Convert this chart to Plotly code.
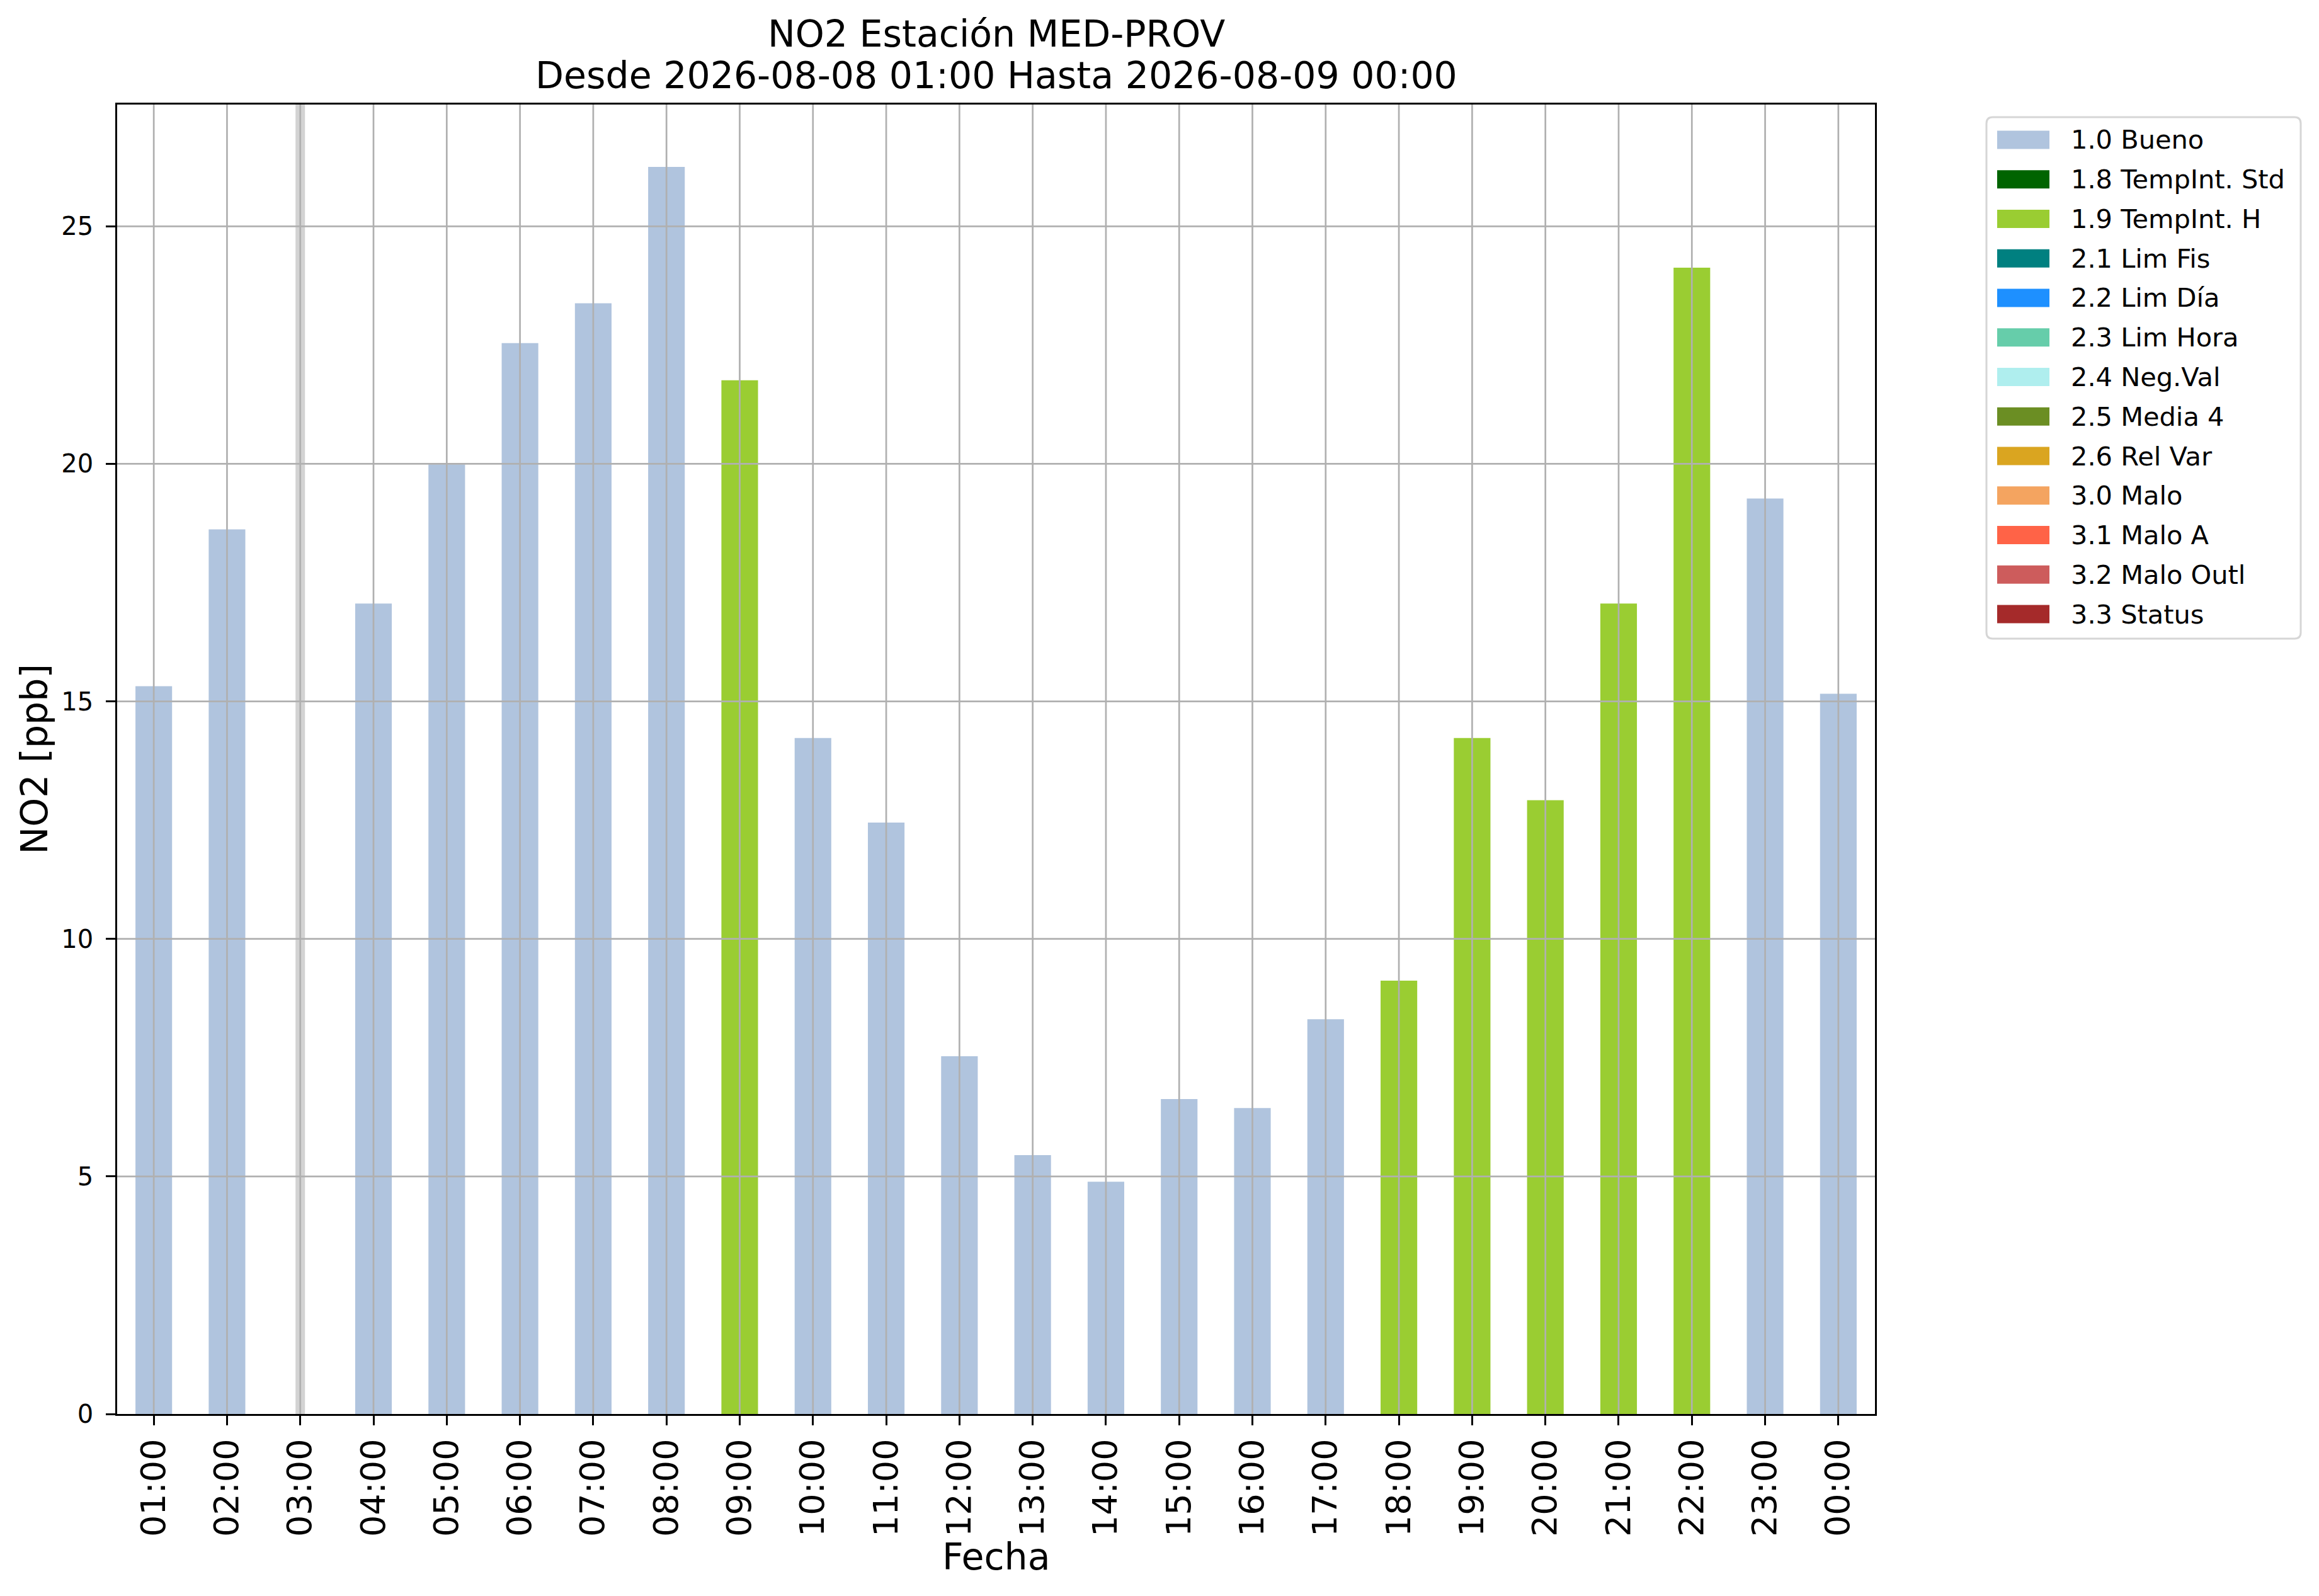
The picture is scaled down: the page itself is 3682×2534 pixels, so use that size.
import plotly.graph_objects as go

# ---------------- data ----------------
hours = ["01:00", "02:00", "03:00", "04:00", "05:00", "06:00", "07:00", "08:00",
         "09:00", "10:00", "11:00", "12:00", "13:00", "14:00", "15:00", "16:00",
         "17:00", "18:00", "19:00", "20:00", "21:00", "22:00", "23:00", "00:00"]
no2_values = [15.32, 18.62, None, 17.06, 19.99, 22.54, 23.38, 26.25,
              21.76, 14.23, 12.45, 7.53, 5.45, 4.89, 6.63, 6.44,
              8.31, 9.12, 14.23, 12.92, 17.06, 24.13, 19.27, 15.16]
flags = ["1.0", "1.0", None, "1.0", "1.0", "1.0", "1.0", "1.0",
         "1.9", "1.0", "1.0", "1.0", "1.0", "1.0", "1.0", "1.0",
         "1.0", "1.9", "1.9", "1.9", "1.9", "1.9", "1.0", "1.0"]
flag_codes = ["1.0", "1.8", "1.9", "2.1", "2.2", "2.3", "2.4", "2.5", "2.6",
              "3.0", "3.1", "3.2", "3.3"]
flag_labels = ["1.0 Bueno", "1.8 TempInt. Std", "1.9 TempInt. H", "2.1 Lim Fis",
               "2.2 Lim Día", "2.3 Lim Hora", "2.4 Neg.Val", "2.5 Media 4",
               "2.6 Rel Var", "3.0 Malo", "3.1 Malo A", "3.2 Malo Outl", "3.3 Status"]
flag_colors = ["#b0c4de", "#006400", "#9acd32", "#008080", "#1e90ff", "#66cdaa",
               "#afeeee", "#6b8e23", "#daa520", "#f4a460", "#ff6347", "#cd5c5c",
               "#a52a2a"]
y_ticks = [0, 5, 10, 15, 20, 25]

title_lines = ["NO2 Estación MED-PROV", "Desde 2026-08-08 01:00 Hasta 2026-08-09 00:00"]
x_title = "Fecha"
y_title = "NO2 [ppb]"

# ---------------- layout geometry (pixels of the page) ----------------
PAGE_W, PAGE_H = 3682, 2534
OFF = 8                      # default body margin of the html page
L, R, T, B = 186, 2977, 166, 2245
PW, PH = R - L, B - T
FONT = "DejaVu Sans"
GRID = "#b0b0b0"


def px(x):
    return (x - L) / PW


def py(y):
    return (B - y) / PH


color_of = dict(zip(flag_codes, flag_colors))
bar_colors = [color_of[f] if f is not None else "rgba(0,0,0,0)" for f in flags]

fig = go.Figure()
fig.add_trace(go.Bar(
    x=hours, y=no2_values, width=0.5,
    marker=dict(color=bar_colors, line=dict(width=0)),
    showlegend=False, hoverinfo="x+y",
))

shapes = []
# missing-data band
for i, v in enumerate(no2_values):
    if v is None:
        shapes.append(dict(type="line", xref="x", yref="paper", x0=i, x1=i, y0=0, y1=1,
                           line=dict(color="#d3d3d3", width=15), layer="above"))
# grid lines drawn above the bars (as in the reference)
for i in range(len(hours)):
    shapes.append(dict(type="line", xref="x", yref="paper", x0=i, x1=i, y0=0, y1=1,
                       line=dict(color=GRID, width=2.7), layer="above"))
for t in y_ticks[1:]:
    shapes.append(dict(type="line", xref="paper", yref="y", x0=0, x1=1, y0=t, y1=t,
                       line=dict(color=GRID, width=2.7), layer="above"))

# custom legend (matplotlib style)
bx0, bx1, by0, by1 = 3154, 3653, 186, 1014
r = 10
path = (f"M {px(bx0 + r)},{py(by0)} L {px(bx1 - r)},{py(by0)} "
        f"Q {px(bx1)},{py(by0)} {px(bx1)},{py(by0 + r)} "
        f"L {px(bx1)},{py(by1 - r)} Q {px(bx1)},{py(by1)} {px(bx1 - r)},{py(by1)} "
        f"L {px(bx0 + r)},{py(by1)} Q {px(bx0)},{py(by1)} {px(bx0)},{py(by1 - r)} "
        f"L {px(bx0)},{py(by0 + r)} Q {px(bx0)},{py(by0)} {px(bx0 + r)},{py(by0)} Z")
shapes.append(dict(type="path", xref="paper", yref="paper", path=path,
                   fillcolor="rgba(255,255,255,0.8)", line=dict(color="#d6d6d6", width=3)))
annotations = []
row0, step = 222, 62.75
for k, (lab, col) in enumerate(zip(flag_labels, flag_colors)):
    yc = row0 + k * step
    shapes.append(dict(type="rect", xref="paper", yref="paper",
                       x0=px(3171), x1=px(3254), y0=py(yc - 14.5), y1=py(yc + 14.5),
                       fillcolor=col, line=dict(width=0)))
    annotations.append(dict(text=lab, xref="paper", yref="paper", x=px(3286), y=py(yc),
                            xanchor="left", yanchor="middle", showarrow=False,
                            font=dict(family=FONT, size=41.5, color="black")))

# title (two lines) and axis titles
for line, yc in zip(title_lines, [54, 119.5]):
    annotations.append(dict(text=line, xref="paper", yref="paper", x=0.5, y=py(yc),
                            xanchor="center", yanchor="middle", showarrow=False,
                            font=dict(family=FONT, size=58.5, color="black")))
annotations.append(dict(text=x_title, xref="paper", yref="paper", x=0.5, y=py(2472),
                        xanchor="center", yanchor="middle", showarrow=False,
                        font=dict(family=FONT, size=58.5, color="black")))
annotations.append(dict(text=y_title, xref="paper", yref="paper", x=px(54), y=0.5,
                        xanchor="center", yanchor="middle", showarrow=False, textangle=-90,
                        font=dict(family=FONT, size=58.5, color="black")))

ymax = max(v for v in no2_values if v is not None) * 1.05

fig.update_layout(
    width=PAGE_W - OFF, height=PAGE_H - OFF,
    margin=dict(l=L - OFF, r=PAGE_W - R, t=T - OFF, b=PAGE_H - B, autoexpand=False),
    paper_bgcolor="white", plot_bgcolor="white",
    font=dict(family=FONT, color="black"),
    shapes=shapes, annotations=annotations,
    xaxis=dict(
        type="category", categoryorder="array", categoryarray=hours,
        range=[-0.5, len(hours) - 0.5],
        showgrid=False, zeroline=False,
        showline=True, mirror=True, linecolor="black", linewidth=2.8,
        ticks="outside", ticklen=15, tickwidth=2.7, tickcolor="black",
        tickangle=-90, tickfont=dict(family=FONT, size=54, color="black"),
        ticklabelstandoff=0,
    ),
    yaxis=dict(
        range=[0, ymax], tickvals=y_ticks, ticktext=[str(t) for t in y_ticks],
        showgrid=False, zeroline=False,
        showline=True, mirror=True, linecolor="black", linewidth=2.8,
        ticks="outside", ticklen=15, tickwidth=2.7, tickcolor="black",
        tickfont=dict(family=FONT, size=40, color="black"),
        ticklabelstandoff=12,
    ),
)

fig.write_html("out.html")
